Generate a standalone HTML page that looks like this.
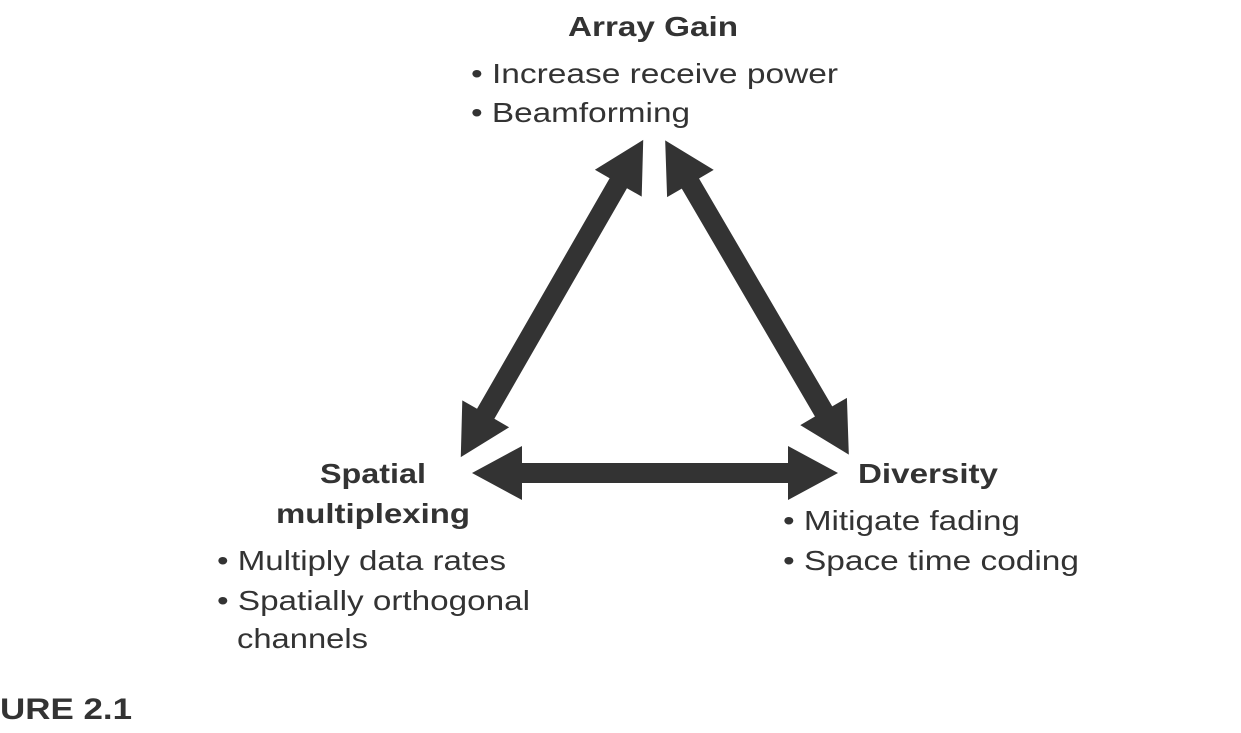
<!DOCTYPE html>
<html><head><meta charset="utf-8"><style>
html,body{margin:0;padding:0;background:#fff;width:1241px;height:733px;overflow:hidden}
svg{display:block}
text{font-family:"Liberation Sans",Arial,Helvetica,sans-serif;fill:#333;font-size:28px}
.b{font-weight:bold}
</style></head><body>
<svg width="1241" height="733" viewBox="0 0 1241 733">
<g fill="#333">
<g transform="translate(655,473)">
<polygon points="-183,0 -133,-27 -133,-10 133,-10 133,-27 183,0 133,27 133,10 -133,10 -133,27"/>
</g>
<g transform="translate(552,298.5) rotate(119.9)">
<polygon points="-183,0 -133,-27 -133,-10 133,-10 133,-27 183,0 133,27 133,10 -133,10 -133,27"/>
</g>
<g transform="translate(757,297.5) rotate(59.7)">
<polygon points="-182,0 -132,-27 -132,-10 132,-10 132,-27 182,0 132,27 132,10 -132,10 -132,27"/>
</g>
</g>
<text class="b" x="568" y="36" textLength="170" lengthAdjust="spacingAndGlyphs">Array Gain</text>
<text x="471" y="83" textLength="367" lengthAdjust="spacingAndGlyphs">• Increase receive power</text>
<text x="471" y="122" textLength="219" lengthAdjust="spacingAndGlyphs">• Beamforming</text>
<text class="b" x="320" y="483" textLength="106" lengthAdjust="spacingAndGlyphs">Spatial</text>
<text class="b" x="276" y="523" textLength="194" lengthAdjust="spacingAndGlyphs">multiplexing</text>
<text x="217" y="570" textLength="289" lengthAdjust="spacingAndGlyphs">• Multiply data rates</text>
<text x="217" y="610" textLength="313" lengthAdjust="spacingAndGlyphs">• Spatially orthogonal</text>
<text x="237" y="648" textLength="131" lengthAdjust="spacingAndGlyphs">channels</text>
<text class="b" x="858" y="483" textLength="140" lengthAdjust="spacingAndGlyphs">Diversity</text>
<text x="783" y="530" textLength="237" lengthAdjust="spacingAndGlyphs">• Mitigate fading</text>
<text x="783" y="570" textLength="296" lengthAdjust="spacingAndGlyphs">• Space time coding</text>
<text class="b" x="0" y="719" style="font-size:30px" textLength="132" lengthAdjust="spacingAndGlyphs">URE 2.1</text>
</svg>
</body></html>
